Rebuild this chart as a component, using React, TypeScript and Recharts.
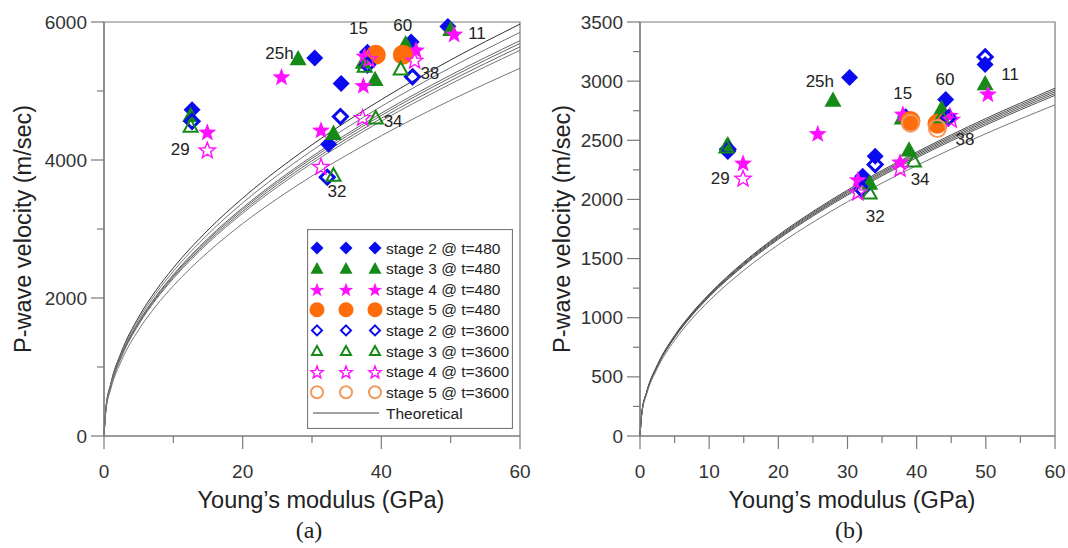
import React from 'react';
import { ComposedChart, Line, Scatter, XAxis, YAxis, ReferenceArea } from 'recharts';

const FONT = '"Liberation Sans", Arial, sans-serif';
const AXIS = '#7a7a7a';
const BLUE = '#0a0aee';
const GREEN = '#168a16';
const MAGENTA = '#ff10ff';
const ORANGE = '#ff6c0c';
const ORANGE_LIGHT = '#f29a60';

// Young's modulus (GPa) at which the theoretical curves are read
const curveModulus = [0, 0.25, 1, 2.5, 5, 7.5, 10, 15, 20, 25, 30, 40, 50, 60];

// panel (a) theoretical curves, P-wave velocity (m/sec)
const theoryA1 = [0, 385, 771, 1218, 1724, 2111, 2437, 2985, 3447, 3854, 4221, 4875, 5450, 5970];
const theoryA2 = [0, 377, 755, 1194, 1689, 2069, 2388, 2925, 3378, 3776, 4137, 4777, 5340, 5850];
const theoryA3 = [0, 370, 740, 1169, 1654, 2026, 2339, 2865, 3308, 3699, 4052, 4679, 5231, 5730];
const theoryA4 = [0, 367, 735, 1161, 1643, 2012, 2323, 2845, 3285, 3673, 4023, 4646, 5194, 5690];
const theoryA5 = [0, 364, 728, 1151, 1628, 1994, 2302, 2820, 3256, 3641, 3988, 4605, 5149, 5640];
const theoryA6 = [0, 361, 722, 1141, 1614, 1977, 2282, 2795, 3228, 3608, 3953, 4564, 5103, 5590];
const theoryA7 = [0, 344, 688, 1088, 1539, 1885, 2176, 2665, 3078, 3440, 3769, 4352, 4866, 5330];

// panel (b) theoretical curves
const theoryB1 = [0, 190, 380, 600, 849, 1040, 1200, 1470, 1698, 1898, 2079, 2400, 2684, 2940];
const theoryB2 = [0, 189, 378, 597, 844, 1034, 1194, 1463, 1689, 1888, 2068, 2388, 2670, 2925];
const theoryB3 = [0, 188, 376, 594, 840, 1029, 1188, 1455, 1680, 1878, 2058, 2376, 2657, 2910];
const theoryB4 = [0, 187, 374, 591, 836, 1024, 1182, 1448, 1672, 1869, 2047, 2364, 2643, 2895];
const theoryB5 = [0, 186, 372, 588, 831, 1018, 1176, 1440, 1663, 1859, 2036, 2352, 2629, 2880];
const theoryB6 = [0, 181, 361, 571, 808, 990, 1143, 1400, 1617, 1807, 1980, 2286, 2556, 2800];

// measured points [E (GPa), Vp (m/sec)] - panel (a)
const a2_480 = [[12.7, 4730], [30.4, 5480], [34.2, 5110], [32.4, 4230], [38, 5560], [44.3, 5710], [49.6, 5935]];
const a3_480 = [[12.5, 4650], [28, 5470], [39.1, 5170], [33.1, 4390], [37.4, 5420], [43.5, 5690], [50, 5895]];
const a4_480 = [[14.9, 4410], [25.6, 5210], [37.4, 5085], [31.3, 4440], [37.6, 5510], [45, 5600], [50.5, 5830]];
const a5_480 = [[39.2, 5525], [43.1, 5525]];
const a2_3600 = [[12.7, 4560], [34.1, 4630], [44.5, 5205], [32.2, 3750], [38, 5380]];
const a3_3600 = [[12.5, 4490], [39.2, 4610], [33.1, 3780], [42.8, 5320], [37.6, 5360]];
const a4_3600 = [[14.9, 4150], [37.3, 4620], [31.3, 3910], [44.8, 5450], [38.2, 5470]];
const a5_3600: number[][] = [];

// panel (b)
const b2_480 = [[12.7, 2405], [30.3, 3030], [34, 2365], [44.2, 2845], [49.9, 3140], [32.2, 2195], [38.4, 2700]];
const b3_480 = [[12.7, 2465], [27.9, 2840], [38.9, 2420], [33.2, 2140], [43.6, 2770], [49.9, 2980], [37.9, 2690]];
const b4_480 = [[14.9, 2310], [25.7, 2560], [37.6, 2320], [31.5, 2170], [44.8, 2715], [50.3, 2895], [38, 2725]];
const b5_480 = [[39.1, 2662], [43, 2640]];
const b2_3600 = [[49.9, 3205], [34, 2295], [12.7, 2425], [32.1, 2085], [44.6, 2690]];
const b3_3600 = [[39.6, 2325], [33.2, 2055], [12.5, 2445], [43.6, 2700]];
const b4_3600 = [[14.9, 2182], [37.6, 2265], [31.5, 2065], [45, 2680]];
const b5_3600 = [[43, 2600], [39.1, 2645]];

// sample labels [text, E, Vp]
const aLabels: [string, number, number][] = [
  ['15', 36.7, 5900], ['60', 43.1, 5943], ['11', 53.8, 5827], ['25h', 25.3, 5540],
  ['38', 47, 5250], ['34', 41.7, 4558], ['32', 33.6, 3548], ['29', 11, 4154],
];
const bLabels: [string, number, number][] = [
  ['25h', 26, 2995], ['15', 38, 2894], ['60', 44.1, 3012], ['11', 53.5, 3054],
  ['38', 47, 2507], ['34', 40.5, 2171], ['32', 34, 1859], ['29', 11.6, 2179],
];

const seriesNames = [
  'stage 2 @ t=480', 'stage 3 @ t=480', 'stage 4 @ t=480', 'stage 5 @ t=480',
  'stage 2 @ t=3600', 'stage 3 @ t=3600', 'stage 4 @ t=3600', 'stage 5 @ t=3600',
];
const seriesKinds = ['diamond', 'triangle', 'star', 'circle', 'diamond', 'triangle', 'star', 'circle'];
const seriesColors = [BLUE, GREEN, MAGENTA, ORANGE, BLUE, GREEN, MAGENTA, ORANGE_LIGHT];
const seriesFilled = [true, true, true, true, false, false, false, false];

const aXTicks = [0, 10, 20, 30, 40, 50, 60];
const aXMajor = [0, 20, 40, 60];
const aYTicks = [0, 1000, 2000, 3000, 4000, 5000, 6000];
const aYMajor = [0, 2000, 4000, 6000];
const bXTicks = [0, 5, 10, 15, 20, 25, 30, 35, 40, 45, 50, 55, 60];
const bXMajor = [0, 10, 20, 30, 40, 50, 60];
const bYTicks = [0, 250, 500, 750, 1000, 1250, 1500, 1750, 2000, 2250, 2500, 2750, 3000, 3250, 3500];
const bYMajor = [0, 500, 1000, 1500, 2000, 2500, 3000, 3500];

const toCurve = (vals: number[]) => vals.map((v, i) => ({ x: curveModulus[i], y: v }));
const toPts = (pts: number[][]) => pts.map(([x, y]) => ({ x, y }));

const starPath = (cx: number, cy: number, r: number) => {
  let d = '';
  for (let i = 0; i < 10; i++) {
    const rr = i % 2 === 0 ? r : r * 0.42;
    const a = -Math.PI / 2 + (i * Math.PI) / 5;
    d += (i === 0 ? 'M' : 'L') + (cx + rr * Math.cos(a)).toFixed(2) + ',' + (cy + rr * Math.sin(a)).toFixed(2);
  }
  return d + 'Z';
};

const Marker = ({ cx, cy, kind, color, filled, s }: any) => {
  if (cx == null || cy == null) return null;
  const fill = filled ? color : 'none';
  if (kind === 'diamond') {
    const r = filled ? s : s - 1.5;
    return <path d={`M${cx},${cy - r}L${cx + r},${cy}L${cx},${cy + r}L${cx - r},${cy}Z`} fill={fill} stroke={color} strokeWidth={filled ? 0 : s > 7 ? 3 : 2} />;
  }
  if (kind === 'triangle') {
    const r = filled ? s : s - 1.5;
    return <path d={`M${cx},${cy - r}L${cx + r},${cy + r * 0.8}L${cx - r},${cy + r * 0.8}Z`} fill={fill} stroke={color} strokeWidth={filled ? 0 : 2} strokeLinejoin="miter" />;
  }
  if (kind === 'star') {
    return <path d={starPath(cx, cy + 1, filled ? s + 1 : s)} fill={fill} stroke={color} strokeWidth={filled ? 0 : 1.4} />;
  }
  const r = filled ? s + 1.5 : s;
  return <circle cx={cx} cy={cy} r={r} fill={fill} stroke={color} strokeWidth={filled ? 0 : 2} />;
};

const XTick = ({ x, y, payload, majors }: any) => {
  const major = majors.includes(payload.value);
  return (
    <g>
      <line x1={x} x2={x} y1={y} y2={y + (major ? 13 : 7)} stroke={AXIS} strokeWidth={1.2} />
      {major && (
        <text x={x} y={y + 35} textAnchor="middle" dominantBaseline="central" fontSize={19} fontFamily={FONT} fill="#333">
          {payload.value}
        </text>
      )}
    </g>
  );
};

const YTick = ({ x, y, payload, majors }: any) => {
  const major = majors.includes(payload.value);
  return (
    <g>
      <line x1={x - (major ? 13 : 7)} x2={x} y1={y} y2={y} stroke={AXIS} strokeWidth={1.2} />
      {major && (
        <text x={x - 17} y={y} textAnchor="end" dominantBaseline="central" fontSize={19} fontFamily={FONT} fill="#333">
          {payload.value}
        </text>
      )}
    </g>
  );
};

const LabelText = (p: any) => (
  <text x={p.cx} y={p.cy} textAnchor="middle" dominantBaseline="central" fontSize={17} fontFamily={FONT} fill="#222">
    {p.payload.t}
  </text>
);

const Panel = ({ curves, curveColors, series, labels, xTicks, xMajor, yTicks, yMajor, yMax, marginLeft, marginRight }: any) => (
  <ComposedChart width={534} height={548} margin={{ top: 22, right: marginRight, bottom: 82, left: marginLeft }}>
    <XAxis
      type="number" dataKey="x" domain={[0, 60]} ticks={xTicks} interval={0}
      tickLine={false} tickSize={0} tickMargin={0} height={30}
      axisLine={{ stroke: AXIS, strokeWidth: 1.2 }}
      tick={(p: any) => <XTick {...p} majors={xMajor} />}
    />
    <YAxis
      type="number" dataKey="y" domain={[0, yMax]} ticks={yTicks} interval={0}
      tickLine={false} tickSize={0} tickMargin={0} width={60}
      axisLine={{ stroke: AXIS, strokeWidth: 1.2 }}
      tick={(p: any) => <YTick {...p} majors={yMajor} />}
    />
    <ReferenceArea x1={0} x2={60} y1={0} y2={yMax} fill="none" stroke={AXIS} strokeWidth={1.2} ifOverflow="visible" />
    {curves.map((c: number[], i: number) => (
      <Line key={'c' + i} data={toCurve(c)} dataKey="y" type="monotone" stroke={curveColors[i]} strokeWidth={1} dot={false} activeDot={false} isAnimationActive={false} />
    ))}
    {series.map((pts: number[][], i: number) => (
      <Scatter
        key={'s' + i} name={seriesNames[i]} data={toPts(pts)} isAnimationActive={false}
        shape={(p: any) => <Marker cx={p.cx} cy={p.cy} kind={seriesKinds[i]} color={seriesColors[i]} filled={seriesFilled[i]} s={8.5} />}
      />
    ))}
    <Scatter data={labels.map(([t, x, y]: any) => ({ t, x, y }))} shape={LabelText} isAnimationActive={false} />
  </ComposedChart>
);

const LegendBox = () => (
  <svg width={206} height={200} style={{ position: 'absolute', left: 307, top: 229 }}>
    <rect x={0.5} y={0.5} width={205} height={199} fill="#fff" stroke={AXIS} strokeWidth={1.2} />
    {seriesNames.map((n, i) => {
      const y = 19 + i * 20.6;
      return (
        <g key={n}>
          {[10, 39, 68].map((x) => (
            <Marker key={x} cx={x} cy={y} kind={seriesKinds[i]} color={seriesColors[i]} filled={seriesFilled[i]} s={seriesKinds[i] === 'circle' ? 6 : 6.5} />
          ))}
          <text x={79} y={y} dominantBaseline="central" fontSize={15.5} fontFamily={FONT} fill="#222">{n}</text>
        </g>
      );
    })}
    <line x1={6} x2={72} y1={184} y2={184} stroke="#444" strokeWidth={1} />
    <text x={79} y={184} dominantBaseline="central" fontSize={15.5} fontFamily={FONT} fill="#222">Theoretical</text>
  </svg>
);

const Titles = () => (
  <svg width={1068} height={548} style={{ position: 'absolute', left: 0, top: 0, pointerEvents: 'none' }}>
    <text x={321} y={500} textAnchor="middle" dominantBaseline="central" fontSize={23.5} fontFamily={FONT} fill="#222">Young’s modulus (GPa)</text>
    <text x={852} y={500} textAnchor="middle" dominantBaseline="central" fontSize={23.5} fontFamily={FONT} fill="#222">Young’s modulus (GPa)</text>
    <text x={309} y={530} textAnchor="middle" dominantBaseline="central" fontSize={24} fontFamily='"Liberation Serif", "Times New Roman", serif' fill="#222">(a)</text>
    <text x={849} y={530} textAnchor="middle" dominantBaseline="central" fontSize={24} fontFamily='"Liberation Serif", "Times New Roman", serif' fill="#222">(b)</text>
    <text transform="translate(23,229) rotate(-90)" textAnchor="middle" dominantBaseline="central" fontSize={23.5} fontFamily={FONT} fill="#222">P-wave velocity (m/sec)</text>
    <text transform="translate(562,229) rotate(-90)" textAnchor="middle" dominantBaseline="central" fontSize={23.5} fontFamily={FONT} fill="#222">P-wave velocity (m/sec)</text>
  </svg>
);

export default function App() {
  const curveColorsA = ['#333', '#777', '#666', '#666', '#666', '#777', '#777'];
  const curveColorsB = ['#444', '#555', '#555', '#555', '#555', '#777'];
  return (
    <div style={{ position: 'absolute', left: 0, top: 0, width: 1068, height: 548, background: '#fff', overflow: 'hidden' }}>
      <div style={{ position: 'absolute', left: 0, top: 0 }}>
        <Panel
          curves={[theoryA1, theoryA2, theoryA3, theoryA4, theoryA5, theoryA6, theoryA7]} curveColors={curveColorsA}
          series={[a2_480, a3_480, a4_480, a5_480, a2_3600, a3_3600, a4_3600, a5_3600]} labels={aLabels}
          xTicks={aXTicks} xMajor={aXMajor} yTicks={aYTicks} yMajor={aYMajor} yMax={6000}
          marginLeft={44} marginRight={14}
        />
        <LegendBox />
      </div>
      <div style={{ position: 'absolute', left: 534, top: 0 }}>
        <Panel
          curves={[theoryB1, theoryB2, theoryB3, theoryB4, theoryB5, theoryB6]} curveColors={curveColorsB}
          series={[b2_480, b3_480, b4_480, b5_480, b2_3600, b3_3600, b4_3600, b5_3600]} labels={bLabels}
          xTicks={bXTicks} xMajor={bXMajor} yTicks={bYTicks} yMajor={bYMajor} yMax={3500}
          marginLeft={46} marginRight={13}
        />
      </div>
      <Titles />
    </div>
  );
}
